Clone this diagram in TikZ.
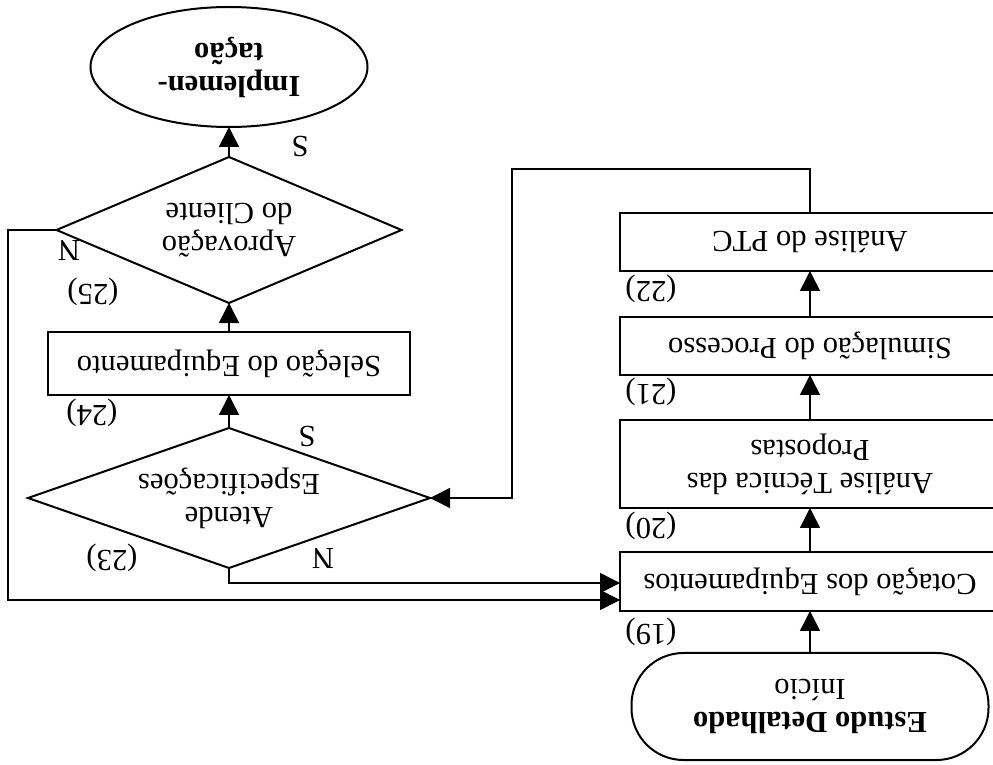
\documentclass[tikz,border=0pt]{standalone}
\usepackage{fontspec}
\setmainfont{Liberation Serif}
\usetikzlibrary{shapes.geometric,arrows.meta}
\begin{document}
\begin{tikzpicture}[x=0.5pt,y=-0.5pt,
  every node/.style={rotate=180,font=\fontsize{15.3}{16.5}\selectfont},
  stepbox/.style={draw,line width=1pt,rectangle,minimum width=190pt,minimum height=29pt,inner sep=0pt,outer sep=0pt,align=center},
  terminal/.style={draw,line width=1pt,rectangle,rounded corners=26pt,minimum width=178.5pt,minimum height=53.5pt,inner sep=0pt,outer sep=0pt,align=center},
  endcap/.style={draw,line width=1pt,ellipse,minimum width=138.5pt,minimum height=60pt,inner sep=0pt,outer sep=0pt,align=center},
  decision/.style={draw,line width=1pt,diamond,inner sep=0pt,outer sep=0pt,align=center},
  arr/.style={line width=0.8pt,-{Triangle[length=10pt,width=10pt]}},
  lbl/.style={inner sep=0pt}]
\useasboundingbox (0,0) rectangle (993,765);
\fill[white] (0,0) rectangle (993,765);
\begin{scope}
\clip (0,0) rectangle (993,765);

% right column
\node[terminal] (estudo) at (810,706.5) {\textbf{Estudo Detalhado}\\Início};
\node[stepbox,minimum height=29.5pt] (cotacao) at (810,581.5) {Cotação dos Equipamentos};
\node[stepbox,minimum height=44pt] (tecnica) at (810,464) {Análise Técnica das\\Propostas};
\node[stepbox] (simul) at (810,346) {Simulação do Processo};
\node[stepbox] (ptc) at (810,242) {Análise do PTC};

% left column
\node[decision,minimum width=201pt,minimum height=70pt,aspect=2.87] (atende) at (229,498) {Atende\\Especificações};
\node[stepbox,minimum width=181pt,minimum height=31.5pt] (selecao) at (229,363.5) {Seleção do Equipamento};
\node[decision,minimum width=172.5pt,minimum height=73pt,aspect=2.36] (aprov) at (229,230) {Aprovação\\do Cliente};
\node[endcap] (impl) at (229,67) {\textbf{Implemen-}\\\textbf{tação}};

% step numbers
\node[lbl] (n19) at (651,632) {(19)};
\node[lbl] (n20) at (651,526) {(20)};
\node[lbl] (n21) at (651,392) {(21)};
\node[lbl] (n22) at (651,289) {(22)};
\node[lbl] (n23) at (112,558) {(23)};
\node[lbl] (n24) at (92,413) {(24)};
\node[lbl] (n25) at (93,292) {(25)};

% branch labels
\node[lbl] (nA) at (323,559) {N};
\node[lbl] (sA) at (307,436) {S};
\node[lbl] (nB) at (69,251) {N};
\node[lbl] (sB) at (300,146) {S};

% free ends of the loops
\coordinate (fb) at (512,169);
\coordinate (inA) at (620,583);
\coordinate (lp) at (8,600);
\coordinate (inB) at (620,600);

% main flow
\draw[arr] (estudo) -- (cotacao);
\draw[arr] (cotacao) -- (tecnica);
\draw[arr] (tecnica) -- (simul);
\draw[arr] (simul) -- (ptc);
\draw[arr] (ptc.south) |- (fb) |- (atende.west);
\draw[arr] (atende) -- (selecao);
\draw[arr] (selecao) -- (aprov);
\draw[arr] (aprov) -- (impl);

% rejection paths back to quotation
\draw[arr] (atende.north) |- (inA);
\draw[arr] (aprov.east) -| (lp) -- (inB);
\end{scope}
\end{tikzpicture}
\end{document}
